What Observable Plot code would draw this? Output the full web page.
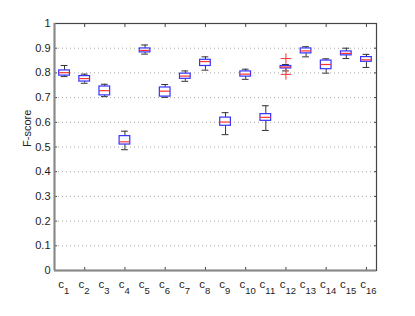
<!DOCTYPE html>
<html>
<head>
<meta charset="utf-8">
<script src="https://cdn.jsdelivr.net/npm/d3@7"></script>
<script src="https://cdn.jsdelivr.net/npm/@observablehq/plot@0.6"></script>
<style>
  html, body { margin: 0; padding: 0; background: #fff; }
  svg { display: block; }
</style>
</head>
<body>
<div id="chart"></div>
<script>
const categories = ["c1","c2","c3","c4","c5","c6","c7","c8","c9","c10","c11","c12","c13","c14","c15","c16"];
const subscripts = ["1","2","3","4","5","6","7","8","9","10","11","12","13","14","15","16"];
const whiskerHigh = [0.830,0.795,0.754,0.564,0.913,0.753,0.808,0.865,0.639,0.815,0.667,0.834,0.906,0.857,0.900,0.875];
const q3          = [0.810,0.787,0.745,0.544,0.899,0.741,0.797,0.853,0.619,0.806,0.633,0.828,0.899,0.850,0.887,0.864];
const medians     = [0.801,0.777,0.728,0.521,0.891,0.726,0.787,0.846,0.601,0.795,0.620,0.824,0.889,0.834,0.879,0.853];
const q1          = [0.789,0.765,0.709,0.510,0.883,0.704,0.776,0.828,0.586,0.785,0.606,0.818,0.879,0.815,0.871,0.845];
const whiskerLow  = [0.785,0.758,0.704,0.489,0.876,0.701,0.766,0.811,0.550,0.774,0.567,0.808,0.865,0.799,0.858,0.822];
const outlierCat   = ["c12","c12"];
const outlierValue = [0.858,0.794];
const yTicks = [0,0.1,0.2,0.3,0.4,0.5,0.6,0.7,0.8,0.9,1];
const yTickLabels = ["0","0.1","0.2","0.3","0.4","0.5","0.6","0.7","0.8","0.9","1"];
const gridValues = [0.1,0.2,0.3,0.4,0.5,0.6,0.7,0.8,0.9];
const xTicks = [2,4,6,8,10,12,14,16];
const yLabel = "F-score";

const boxes = categories.map((c, i) => ({
  cat: c, x: i + 1, sub: subscripts[i],
  hi: whiskerHigh[i], q3: q3[i], med: medians[i], q1: q1[i], lo: whiskerLow[i]
}));
const outliers = outlierCat.map((c, i) => ({x: categories.indexOf(c) + 1, y: outlierValue[i]}));

const boxHalf = 0.265, capHalf = 0.17;
const font = "Liberation Sans, Arial, Helvetica, sans-serif";

const chart = Plot.plot({
  width: 415,
  height: 316,
  marginLeft: 54,
  marginRight: 39,
  marginTop: 23,
  marginBottom: 46,
  style: {fontFamily: font, fontSize: "11px", color: "#222", background: "#fff"},
  x: {domain: [0.5, 16.5]},
  y: {domain: [0, 1]},
  marks: [
    Plot.gridY(gridValues, {stroke: "#aaa", strokeOpacity: 1, strokeDasharray: "1,3"}),
    Plot.axisY({anchor: "left", ticks: yTicks, tickFormat: (d) => yTickLabels[yTicks.indexOf(d)], tickSize: 0, tickPadding: 4, label: null, fontSize: 11, fill: "#222"}),
    Plot.axisY({anchor: "left", ticks: yTicks, tickSize: -3, text: null, label: null, stroke: "#444"}),
    Plot.axisY({anchor: "right", ticks: yTicks, tickSize: -3, text: null, label: null, stroke: "#444"}),
    Plot.axisX({anchor: "bottom", ticks: xTicks, tickSize: -3, text: null, label: null, stroke: "#444"}),
    Plot.axisX({anchor: "top", ticks: xTicks, tickSize: -3, text: null, label: null, stroke: "#444"}),
    Plot.frame({stroke: "#444", strokeWidth: 1.2}),
    Plot.ruleX([0.5], {stroke: "#888", strokeWidth: 2}),
    Plot.ruleY([0], {stroke: "#888", strokeWidth: 2}),
    // whiskers
    Plot.ruleX(boxes, {x: "x", y1: "q3", y2: "hi", stroke: "#333", strokeWidth: 1}),
    Plot.ruleX(boxes, {x: "x", y1: "lo", y2: "q1", stroke: "#333", strokeWidth: 1}),
    Plot.ruleY(boxes, {y: "hi", x1: d => d.x - capHalf, x2: d => d.x + capHalf, stroke: "#333", strokeWidth: 1}),
    Plot.ruleY(boxes, {y: "lo", x1: d => d.x - capHalf, x2: d => d.x + capHalf, stroke: "#333", strokeWidth: 1}),
    // boxes
    Plot.rect(boxes, {x1: d => d.x - boxHalf, x2: d => d.x + boxHalf, y1: "q1", y2: "q3", fill: "#fff", stroke: "#3333ff", strokeWidth: 1.2}),
    Plot.ruleY(boxes, {y: "med", x1: d => d.x - boxHalf, x2: d => d.x + boxHalf, stroke: "#ff3333", strokeWidth: 1.2}),
    // outliers
    Plot.dot(outliers, {x: "x", y: "y", symbol: "plus", r: 3.5, stroke: "#ff3333", strokeWidth: 1}),
    // category labels c with subscript
    Plot.text(boxes, {x: "x", y: 0, text: () => "c", textAnchor: "end", dx: -0.5, dy: 14, fontSize: 11.5, fill: "#222"}),
    Plot.text(boxes, {x: "x", y: 0, text: "sub", textAnchor: "start", dx: -0.5, dy: 20, fontSize: 9.5, fill: "#222"}),
    // y label
    Plot.text([yLabel], {frameAnchor: "left", dx: -27, rotate: -90, text: d => d, fontSize: 11, fill: "#222"})
  ]
});
document.getElementById("chart").appendChild(chart);
</script>
</body>
</html>
